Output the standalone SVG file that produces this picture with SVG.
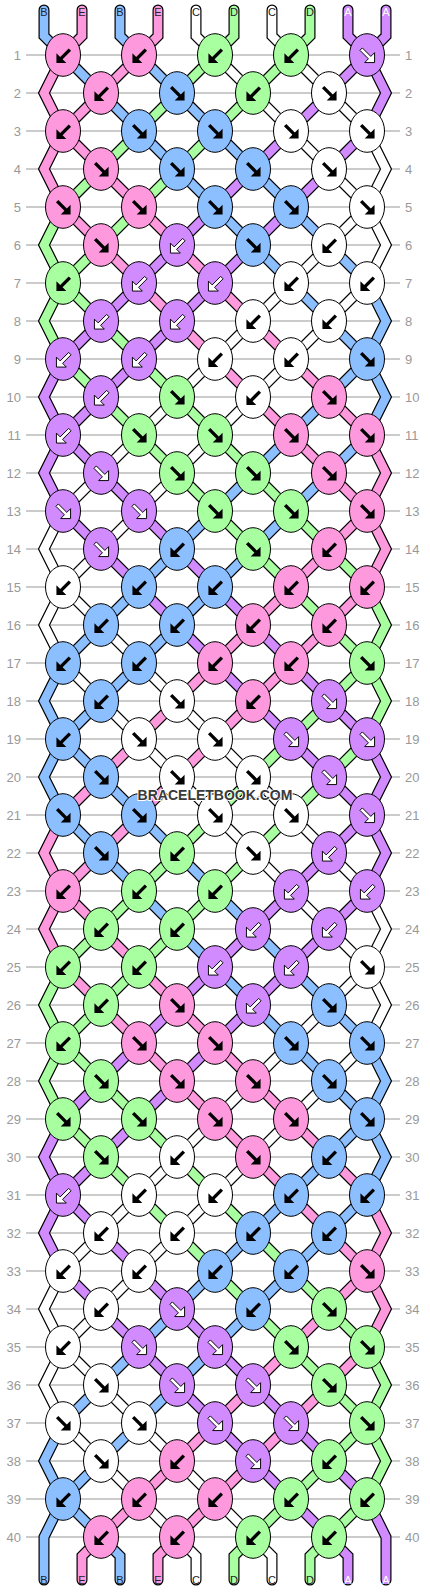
<svg xmlns="http://www.w3.org/2000/svg" xmlns:xlink="http://www.w3.org/1999/xlink" width="430" height="1592" viewBox="0 0 430 1592">
<style>
.ln{fill:none;stroke:#bbb;stroke-width:1.5}
.num{font-family:"Liberation Sans",Arial,sans-serif;font-size:13px;fill:#999}
.nl{text-anchor:end}
.o{fill:none;stroke:#000;stroke-width:11;stroke-linecap:round;stroke-linejoin:miter}
.s{fill:none;stroke-width:8.6;stroke-linecap:round;stroke-linejoin:miter}
.cA{stroke:#d28bff}.cB{stroke:#8cbfff}.cC{stroke:#fff}.cD{stroke:#a8ffa0}.cE{stroke:#ff99dd}
.P{fill:#ff99dd}.B{fill:#8cbfff}.G{fill:#a8ffa0}.W{fill:#fff}.U{fill:#d28bff}
.lb{font-family:"Liberation Sans",Arial,sans-serif;font-size:11px;text-anchor:middle;fill:#222}
.lw{fill:#fff}
.wm{font-family:"Liberation Sans",Arial,sans-serif;font-size:14px;font-weight:bold;text-anchor:middle;fill:#3a3a3a;stroke:#fff;stroke-width:2;paint-order:stroke}
</style>
<defs>
<path id="s0" d="M44,10V36L63,55L367,359L386,397L367,435L63,739L44,777L63,815L367,1119L386,1157L367,1195L63,1499L44,1537V1580"/>
<path id="s1" d="M82,10V36L63,55L44,93L63,131L367,435L386,473L367,511L63,815L44,853L63,891L367,1195L386,1233L367,1271L101,1537L82,1556V1580"/>
<path id="s2" d="M120,10V36L139,55L367,283L386,321L367,359L63,663L44,701L63,739L367,1043L386,1081L367,1119L63,1423L44,1461L63,1499L120,1556V1580"/>
<path id="s3" d="M158,10V36L139,55L63,131L44,169L63,207L367,511L386,549L367,587L63,891L44,929L63,967L367,1271L386,1309L367,1347L158,1556V1580"/>
<path id="s4" d="M196,10V36L215,55L367,207L386,245L367,283L63,587L44,625L63,663L367,967L386,1005L367,1043L63,1347L44,1385L63,1423L196,1556V1580"/>
<path id="s5" d="M234,10V36L215,55L63,207L44,245L63,283L367,587L386,625L367,663L63,967L44,1005L63,1043L367,1347L386,1385L367,1423L234,1556V1580"/>
<path id="s6" d="M272,10V36L291,55L367,131L386,169L367,207L63,511L44,549L63,587L367,891L386,929L367,967L63,1271L44,1309L63,1347L272,1556V1580"/>
<path id="s7" d="M310,10V36L291,55L63,283L44,321L63,359L367,663L386,701L367,739L63,1043L44,1081L63,1119L367,1423L386,1461L367,1499L310,1556V1580"/>
<path id="s8" d="M348,10V36L367,55L386,93L367,131L63,435L44,473L63,511L367,815L386,853L367,891L63,1195L44,1233L63,1271L348,1556V1580"/>
<path id="s9" d="M386,10V36L367,55L63,359L44,397L63,435L367,739L386,777L367,815L63,1119L44,1157L63,1195L367,1499L386,1537V1580"/>
<ellipse id="e" rx="17.5" ry="21.3" stroke="#000" stroke-width="1"/>
<path id="ar" d="M-9,-1.7H3V-7L10,0L3,7V1.7H-9Z"/>
<g id="L"><use href="#e"/><use href="#ar" transform="translate(0.5,1) rotate(135)" fill="#000"/></g>
<g id="R"><use href="#e"/><use href="#ar" transform="translate(0.5,0.5) rotate(45)" fill="#000"/></g>
<g id="Lw"><use href="#e"/><use href="#ar" transform="translate(0.5,1) rotate(135)" fill="#fff" stroke="#000" stroke-width="0.9"/></g>
<g id="Rw"><use href="#e"/><use href="#ar" transform="translate(0.5,0.5) rotate(45)" fill="#fff" stroke="#000" stroke-width="0.9"/></g>
</defs>
<rect width="430" height="1592" fill="#fff"/>
<g id="grid">
<path class="ln" d="M26,55H400M26,93H400M26,131H400M26,169H400M26,207H400M26,245H400M26,283H400M26,321H400M26,359H400M26,397H400M26,435H400M26,473H400M26,511H400M26,549H400M26,587H400M26,625H400M26,663H400M26,701H400M26,739H400M26,777H400M26,815H400M26,853H400M26,891H400M26,929H400M26,967H400M26,1005H400M26,1043H400M26,1081H400M26,1119H400M26,1157H400M26,1195H400M26,1233H400M26,1271H400M26,1309H400M26,1347H400M26,1385H400M26,1423H400M26,1461H400M26,1499H400M26,1537H400"/>
<g class="num nl">
<text x="21" y="59.5">1</text><text x="21" y="97.5">2</text><text x="21" y="135.5">3</text><text x="21" y="173.5">4</text><text x="21" y="211.5">5</text><text x="21" y="249.5">6</text><text x="21" y="287.5">7</text><text x="21" y="325.5">8</text><text x="21" y="363.5">9</text><text x="21" y="401.5">10</text><text x="21" y="439.5">11</text><text x="21" y="477.5">12</text><text x="21" y="515.5">13</text><text x="21" y="553.5">14</text><text x="21" y="591.5">15</text><text x="21" y="629.5">16</text><text x="21" y="667.5">17</text><text x="21" y="705.5">18</text><text x="21" y="743.5">19</text><text x="21" y="781.5">20</text><text x="21" y="819.5">21</text><text x="21" y="857.5">22</text><text x="21" y="895.5">23</text><text x="21" y="933.5">24</text><text x="21" y="971.5">25</text><text x="21" y="1009.5">26</text><text x="21" y="1047.5">27</text><text x="21" y="1085.5">28</text><text x="21" y="1123.5">29</text><text x="21" y="1161.5">30</text><text x="21" y="1199.5">31</text><text x="21" y="1237.5">32</text><text x="21" y="1275.5">33</text><text x="21" y="1313.5">34</text><text x="21" y="1351.5">35</text><text x="21" y="1389.5">36</text><text x="21" y="1427.5">37</text><text x="21" y="1465.5">38</text><text x="21" y="1503.5">39</text><text x="21" y="1541.5">40</text>
</g>
<g class="num">
<text x="405" y="59.5">1</text><text x="405" y="97.5">2</text><text x="405" y="135.5">3</text><text x="405" y="173.5">4</text><text x="405" y="211.5">5</text><text x="405" y="249.5">6</text><text x="405" y="287.5">7</text><text x="405" y="325.5">8</text><text x="405" y="363.5">9</text><text x="405" y="401.5">10</text><text x="405" y="439.5">11</text><text x="405" y="477.5">12</text><text x="405" y="515.5">13</text><text x="405" y="553.5">14</text><text x="405" y="591.5">15</text><text x="405" y="629.5">16</text><text x="405" y="667.5">17</text><text x="405" y="705.5">18</text><text x="405" y="743.5">19</text><text x="405" y="781.5">20</text><text x="405" y="819.5">21</text><text x="405" y="857.5">22</text><text x="405" y="895.5">23</text><text x="405" y="933.5">24</text><text x="405" y="971.5">25</text><text x="405" y="1009.5">26</text><text x="405" y="1047.5">27</text><text x="405" y="1085.5">28</text><text x="405" y="1123.5">29</text><text x="405" y="1161.5">30</text><text x="405" y="1199.5">31</text><text x="405" y="1237.5">32</text><text x="405" y="1275.5">33</text><text x="405" y="1313.5">34</text><text x="405" y="1351.5">35</text><text x="405" y="1389.5">36</text><text x="405" y="1427.5">37</text><text x="405" y="1465.5">38</text><text x="405" y="1503.5">39</text><text x="405" y="1541.5">40</text>
</g>
</g>
<g id="connectors">
<use href="#s0" class="o"/><use href="#s1" class="o"/><use href="#s2" class="o"/><use href="#s3" class="o"/><use href="#s4" class="o"/><use href="#s5" class="o"/><use href="#s6" class="o"/><use href="#s7" class="o"/><use href="#s8" class="o"/><use href="#s9" class="o"/>
<use href="#s0" class="s cB"/><use href="#s1" class="s cE"/><use href="#s2" class="s cB"/><use href="#s3" class="s cE"/><use href="#s4" class="s cC"/><use href="#s5" class="s cD"/><use href="#s6" class="s cC"/><use href="#s7" class="s cD"/><use href="#s8" class="s cA"/><use href="#s9" class="s cA"/>
</g>
<g id="labels">
<text class="lb" x="44" y="16">B</text><text class="lb" x="82" y="16">E</text><text class="lb" x="120" y="16">B</text><text class="lb" x="158" y="16">E</text><text class="lb" x="196" y="16">C</text><text class="lb" x="234" y="16">D</text><text class="lb" x="272" y="16">C</text><text class="lb" x="310" y="16">D</text><text class="lb lw" x="348" y="16">A</text><text class="lb lw" x="386" y="16">A</text>
<text class="lb" x="44" y="1584">B</text><text class="lb" x="82" y="1584">E</text><text class="lb" x="120" y="1584">B</text><text class="lb" x="158" y="1584">E</text><text class="lb" x="196" y="1584">C</text><text class="lb" x="234" y="1584">D</text><text class="lb" x="272" y="1584">C</text><text class="lb" x="310" y="1584">D</text><text class="lb lw" x="348" y="1584">A</text><text class="lb lw" x="386" y="1584">A</text>
</g>
<g id="knots">
<g id="k1-1" class="P"><use href="#L" x="63" y="55"/></g><g id="k1-2" class="P"><use href="#L" x="139" y="55"/></g><g id="k1-3" class="G"><use href="#L" x="215" y="55"/></g><g id="k1-4" class="G"><use href="#L" x="291" y="55"/></g><g id="k1-5" class="U"><use href="#Rw" x="367" y="55"/></g>
<g id="k2-1" class="P"><use href="#L" x="101" y="93"/></g><g id="k2-2" class="B"><use href="#R" x="177" y="93"/></g><g id="k2-3" class="G"><use href="#L" x="253" y="93"/></g><g id="k2-4" class="W"><use href="#R" x="329" y="93"/></g>
<g id="k3-1" class="P"><use href="#L" x="63" y="131"/></g><g id="k3-2" class="B"><use href="#R" x="139" y="131"/></g><g id="k3-3" class="B"><use href="#R" x="215" y="131"/></g><g id="k3-4" class="W"><use href="#R" x="291" y="131"/></g><g id="k3-5" class="W"><use href="#R" x="367" y="131"/></g>
<g id="k4-1" class="P"><use href="#R" x="101" y="169"/></g><g id="k4-2" class="B"><use href="#R" x="177" y="169"/></g><g id="k4-3" class="B"><use href="#R" x="253" y="169"/></g><g id="k4-4" class="W"><use href="#R" x="329" y="169"/></g>
<g id="k5-1" class="P"><use href="#R" x="63" y="207"/></g><g id="k5-2" class="P"><use href="#R" x="139" y="207"/></g><g id="k5-3" class="B"><use href="#R" x="215" y="207"/></g><g id="k5-4" class="B"><use href="#R" x="291" y="207"/></g><g id="k5-5" class="W"><use href="#R" x="367" y="207"/></g>
<g id="k6-1" class="P"><use href="#R" x="101" y="245"/></g><g id="k6-2" class="U"><use href="#Lw" x="177" y="245"/></g><g id="k6-3" class="B"><use href="#R" x="253" y="245"/></g><g id="k6-4" class="W"><use href="#L" x="329" y="245"/></g>
<g id="k7-1" class="G"><use href="#L" x="63" y="283"/></g><g id="k7-2" class="U"><use href="#Lw" x="139" y="283"/></g><g id="k7-3" class="U"><use href="#Lw" x="215" y="283"/></g><g id="k7-4" class="W"><use href="#L" x="291" y="283"/></g><g id="k7-5" class="W"><use href="#L" x="367" y="283"/></g>
<g id="k8-1" class="U"><use href="#Lw" x="101" y="321"/></g><g id="k8-2" class="U"><use href="#Lw" x="177" y="321"/></g><g id="k8-3" class="W"><use href="#L" x="253" y="321"/></g><g id="k8-4" class="W"><use href="#L" x="329" y="321"/></g>
<g id="k9-1" class="U"><use href="#Lw" x="63" y="359"/></g><g id="k9-2" class="U"><use href="#Lw" x="139" y="359"/></g><g id="k9-3" class="W"><use href="#L" x="215" y="359"/></g><g id="k9-4" class="W"><use href="#L" x="291" y="359"/></g><g id="k9-5" class="B"><use href="#R" x="367" y="359"/></g>
<g id="k10-1" class="U"><use href="#Lw" x="101" y="397"/></g><g id="k10-2" class="G"><use href="#R" x="177" y="397"/></g><g id="k10-3" class="W"><use href="#L" x="253" y="397"/></g><g id="k10-4" class="P"><use href="#R" x="329" y="397"/></g>
<g id="k11-1" class="U"><use href="#Lw" x="63" y="435"/></g><g id="k11-2" class="G"><use href="#R" x="139" y="435"/></g><g id="k11-3" class="G"><use href="#R" x="215" y="435"/></g><g id="k11-4" class="P"><use href="#R" x="291" y="435"/></g><g id="k11-5" class="P"><use href="#R" x="367" y="435"/></g>
<g id="k12-1" class="U"><use href="#Rw" x="101" y="473"/></g><g id="k12-2" class="G"><use href="#R" x="177" y="473"/></g><g id="k12-3" class="G"><use href="#R" x="253" y="473"/></g><g id="k12-4" class="P"><use href="#R" x="329" y="473"/></g>
<g id="k13-1" class="U"><use href="#Rw" x="63" y="511"/></g><g id="k13-2" class="U"><use href="#Rw" x="139" y="511"/></g><g id="k13-3" class="G"><use href="#R" x="215" y="511"/></g><g id="k13-4" class="G"><use href="#R" x="291" y="511"/></g><g id="k13-5" class="P"><use href="#R" x="367" y="511"/></g>
<g id="k14-1" class="U"><use href="#Rw" x="101" y="549"/></g><g id="k14-2" class="B"><use href="#L" x="177" y="549"/></g><g id="k14-3" class="G"><use href="#R" x="253" y="549"/></g><g id="k14-4" class="P"><use href="#L" x="329" y="549"/></g>
<g id="k15-1" class="W"><use href="#L" x="63" y="587"/></g><g id="k15-2" class="B"><use href="#L" x="139" y="587"/></g><g id="k15-3" class="B"><use href="#L" x="215" y="587"/></g><g id="k15-4" class="P"><use href="#L" x="291" y="587"/></g><g id="k15-5" class="P"><use href="#L" x="367" y="587"/></g>
<g id="k16-1" class="B"><use href="#L" x="101" y="625"/></g><g id="k16-2" class="B"><use href="#L" x="177" y="625"/></g><g id="k16-3" class="P"><use href="#L" x="253" y="625"/></g><g id="k16-4" class="P"><use href="#L" x="329" y="625"/></g>
<g id="k17-1" class="B"><use href="#L" x="63" y="663"/></g><g id="k17-2" class="B"><use href="#L" x="139" y="663"/></g><g id="k17-3" class="P"><use href="#L" x="215" y="663"/></g><g id="k17-4" class="P"><use href="#L" x="291" y="663"/></g><g id="k17-5" class="G"><use href="#R" x="367" y="663"/></g>
<g id="k18-1" class="B"><use href="#L" x="101" y="701"/></g><g id="k18-2" class="W"><use href="#R" x="177" y="701"/></g><g id="k18-3" class="P"><use href="#L" x="253" y="701"/></g><g id="k18-4" class="U"><use href="#Rw" x="329" y="701"/></g>
<g id="k19-1" class="B"><use href="#L" x="63" y="739"/></g><g id="k19-2" class="W"><use href="#R" x="139" y="739"/></g><g id="k19-3" class="W"><use href="#R" x="215" y="739"/></g><g id="k19-4" class="U"><use href="#Rw" x="291" y="739"/></g><g id="k19-5" class="U"><use href="#Rw" x="367" y="739"/></g>
<g id="k20-1" class="B"><use href="#R" x="101" y="777"/></g><g id="k20-2" class="W"><use href="#R" x="177" y="777"/></g><g id="k20-3" class="W"><use href="#R" x="253" y="777"/></g><g id="k20-4" class="U"><use href="#Rw" x="329" y="777"/></g>
<g id="k21-1" class="B"><use href="#R" x="63" y="815"/></g><g id="k21-2" class="B"><use href="#R" x="139" y="815"/></g><g id="k21-3" class="W"><use href="#R" x="215" y="815"/></g><g id="k21-4" class="W"><use href="#R" x="291" y="815"/></g><g id="k21-5" class="U"><use href="#Rw" x="367" y="815"/></g>
<g id="k22-1" class="B"><use href="#R" x="101" y="853"/></g><g id="k22-2" class="G"><use href="#L" x="177" y="853"/></g><g id="k22-3" class="W"><use href="#R" x="253" y="853"/></g><g id="k22-4" class="U"><use href="#Lw" x="329" y="853"/></g>
<g id="k23-1" class="P"><use href="#L" x="63" y="891"/></g><g id="k23-2" class="G"><use href="#L" x="139" y="891"/></g><g id="k23-3" class="G"><use href="#L" x="215" y="891"/></g><g id="k23-4" class="U"><use href="#Lw" x="291" y="891"/></g><g id="k23-5" class="U"><use href="#Lw" x="367" y="891"/></g>
<g id="k24-1" class="G"><use href="#L" x="101" y="929"/></g><g id="k24-2" class="G"><use href="#L" x="177" y="929"/></g><g id="k24-3" class="U"><use href="#Lw" x="253" y="929"/></g><g id="k24-4" class="U"><use href="#Lw" x="329" y="929"/></g>
<g id="k25-1" class="G"><use href="#L" x="63" y="967"/></g><g id="k25-2" class="G"><use href="#L" x="139" y="967"/></g><g id="k25-3" class="U"><use href="#Lw" x="215" y="967"/></g><g id="k25-4" class="U"><use href="#Lw" x="291" y="967"/></g><g id="k25-5" class="W"><use href="#R" x="367" y="967"/></g>
<g id="k26-1" class="G"><use href="#L" x="101" y="1005"/></g><g id="k26-2" class="P"><use href="#R" x="177" y="1005"/></g><g id="k26-3" class="U"><use href="#Lw" x="253" y="1005"/></g><g id="k26-4" class="B"><use href="#R" x="329" y="1005"/></g>
<g id="k27-1" class="G"><use href="#L" x="63" y="1043"/></g><g id="k27-2" class="P"><use href="#R" x="139" y="1043"/></g><g id="k27-3" class="P"><use href="#R" x="215" y="1043"/></g><g id="k27-4" class="B"><use href="#R" x="291" y="1043"/></g><g id="k27-5" class="B"><use href="#R" x="367" y="1043"/></g>
<g id="k28-1" class="G"><use href="#R" x="101" y="1081"/></g><g id="k28-2" class="P"><use href="#R" x="177" y="1081"/></g><g id="k28-3" class="P"><use href="#R" x="253" y="1081"/></g><g id="k28-4" class="B"><use href="#R" x="329" y="1081"/></g>
<g id="k29-1" class="G"><use href="#R" x="63" y="1119"/></g><g id="k29-2" class="G"><use href="#R" x="139" y="1119"/></g><g id="k29-3" class="P"><use href="#R" x="215" y="1119"/></g><g id="k29-4" class="P"><use href="#R" x="291" y="1119"/></g><g id="k29-5" class="B"><use href="#R" x="367" y="1119"/></g>
<g id="k30-1" class="G"><use href="#R" x="101" y="1157"/></g><g id="k30-2" class="W"><use href="#L" x="177" y="1157"/></g><g id="k30-3" class="P"><use href="#R" x="253" y="1157"/></g><g id="k30-4" class="B"><use href="#L" x="329" y="1157"/></g>
<g id="k31-1" class="U"><use href="#Lw" x="63" y="1195"/></g><g id="k31-2" class="W"><use href="#L" x="139" y="1195"/></g><g id="k31-3" class="W"><use href="#L" x="215" y="1195"/></g><g id="k31-4" class="B"><use href="#L" x="291" y="1195"/></g><g id="k31-5" class="B"><use href="#L" x="367" y="1195"/></g>
<g id="k32-1" class="W"><use href="#L" x="101" y="1233"/></g><g id="k32-2" class="W"><use href="#L" x="177" y="1233"/></g><g id="k32-3" class="B"><use href="#L" x="253" y="1233"/></g><g id="k32-4" class="B"><use href="#L" x="329" y="1233"/></g>
<g id="k33-1" class="W"><use href="#L" x="63" y="1271"/></g><g id="k33-2" class="W"><use href="#L" x="139" y="1271"/></g><g id="k33-3" class="B"><use href="#L" x="215" y="1271"/></g><g id="k33-4" class="B"><use href="#L" x="291" y="1271"/></g><g id="k33-5" class="P"><use href="#R" x="367" y="1271"/></g>
<g id="k34-1" class="W"><use href="#L" x="101" y="1309"/></g><g id="k34-2" class="U"><use href="#Rw" x="177" y="1309"/></g><g id="k34-3" class="B"><use href="#L" x="253" y="1309"/></g><g id="k34-4" class="G"><use href="#R" x="329" y="1309"/></g>
<g id="k35-1" class="W"><use href="#L" x="63" y="1347"/></g><g id="k35-2" class="U"><use href="#Rw" x="139" y="1347"/></g><g id="k35-3" class="U"><use href="#Rw" x="215" y="1347"/></g><g id="k35-4" class="G"><use href="#R" x="291" y="1347"/></g><g id="k35-5" class="G"><use href="#R" x="367" y="1347"/></g>
<g id="k36-1" class="W"><use href="#R" x="101" y="1385"/></g><g id="k36-2" class="U"><use href="#Rw" x="177" y="1385"/></g><g id="k36-3" class="U"><use href="#Rw" x="253" y="1385"/></g><g id="k36-4" class="G"><use href="#R" x="329" y="1385"/></g>
<g id="k37-1" class="W"><use href="#R" x="63" y="1423"/></g><g id="k37-2" class="W"><use href="#R" x="139" y="1423"/></g><g id="k37-3" class="U"><use href="#Rw" x="215" y="1423"/></g><g id="k37-4" class="U"><use href="#Rw" x="291" y="1423"/></g><g id="k37-5" class="G"><use href="#R" x="367" y="1423"/></g>
<g id="k38-1" class="W"><use href="#R" x="101" y="1461"/></g><g id="k38-2" class="P"><use href="#L" x="177" y="1461"/></g><g id="k38-3" class="U"><use href="#Rw" x="253" y="1461"/></g><g id="k38-4" class="G"><use href="#L" x="329" y="1461"/></g>
<g id="k39-1" class="B"><use href="#L" x="63" y="1499"/></g><g id="k39-2" class="P"><use href="#L" x="139" y="1499"/></g><g id="k39-3" class="P"><use href="#L" x="215" y="1499"/></g><g id="k39-4" class="G"><use href="#L" x="291" y="1499"/></g><g id="k39-5" class="G"><use href="#L" x="367" y="1499"/></g>
<g id="k40-1" class="P"><use href="#L" x="101" y="1537"/></g><g id="k40-2" class="P"><use href="#L" x="177" y="1537"/></g><g id="k40-3" class="G"><use href="#L" x="253" y="1537"/></g><g id="k40-4" class="G"><use href="#L" x="329" y="1537"/></g>
</g>
<text class="wm" x="215" y="800">BRACELETBOOK.COM</text>
</svg>
